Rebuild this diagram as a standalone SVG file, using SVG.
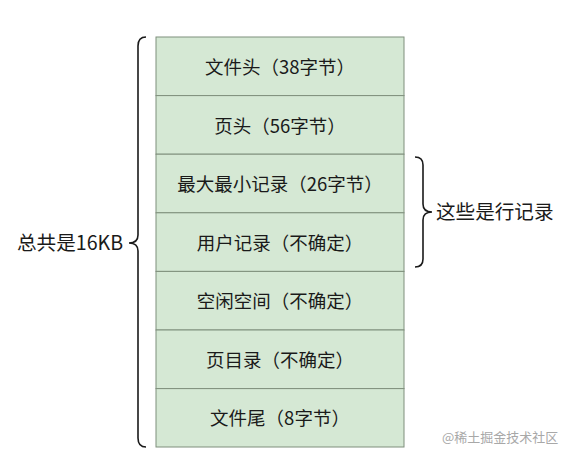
<svg xmlns="http://www.w3.org/2000/svg" width="561" height="456" viewBox="0 0 561 456">
<style>
.cell rect{fill:#d5e8d4;stroke:#7f8f7c;stroke-width:1}
text{font-family:"Noto Sans CJK SC","Noto Sans",sans-serif;fill:#1a1a1a}
.t{font-size:18.5px;text-anchor:middle}
.lbl{font-size:19.6px}
.brace{fill:none;stroke:#1a1a1a;stroke-width:1.6}
.wm{font-size:13px;fill:#a8a8a8}
</style>
<rect width="561" height="456" fill="#fff"/>
<g id="n1" class="cell"><rect x="156" y="37" width="248" height="58.6"/><text class="t" x="280" y="74">文件头（38字节）</text></g>
<g id="n2" class="cell"><rect x="156" y="95.6" width="248" height="58.6"/><text class="t" x="280" y="132.5">页头（56字节）</text></g>
<g id="n3" class="cell"><rect x="156" y="154.2" width="248" height="58.6"/><text class="t" x="280" y="191">最大最小记录（26字节）</text></g>
<g id="n4" class="cell"><rect x="156" y="212.8" width="248" height="58.6"/><text class="t" x="280" y="249.5">用户记录（不确定）</text></g>
<g id="n5" class="cell"><rect x="156" y="271.4" width="248" height="58.6"/><text class="t" x="280" y="308">空闲空间（不确定）</text></g>
<g id="n6" class="cell"><rect x="156" y="330" width="248" height="58.6"/><text class="t" x="280" y="366.5">页目录（不确定）</text></g>
<g id="n7" class="cell"><rect x="156" y="388.6" width="248" height="58.4"/><text class="t" x="280" y="425">文件尾（8字节）</text></g>
<g id="connectors">
<path class="brace" d="M146,37 Q138,37 138,46 L138,235 Q138,243 129,243 Q138,243 138,251 L138,438 Q138,447 146,447"/>
<path class="brace" d="M415,157 Q423,157 423,165 L423,204 Q423,212 432,212 Q423,212 423,220 L423,259 Q423,267 415,267"/>
</g>
<g id="left-label"><text class="lbl" x="17" y="250">总共是16KB</text></g>
<g id="right-label"><text class="lbl" x="436" y="219">这些是行记录</text></g>
<text class="wm" x="442" y="442">@稀土掘金技术社区</text>
</svg>
